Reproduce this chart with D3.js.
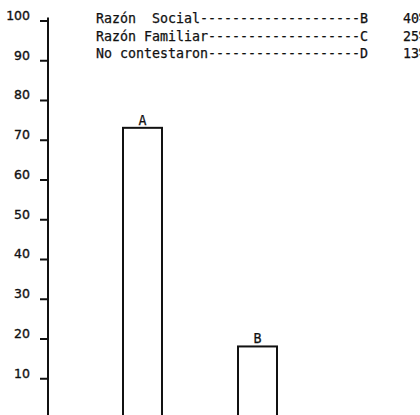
<!DOCTYPE html>
<html lang="es">
<head>
  <meta charset="utf-8">
  <title>Razones</title>
  <script src="https://d3js.org/d3.v7.min.js"></script>
  <style>
    body { margin: 0; background: #fff; }
    svg { display: block; }
    .tw { font-family: 'DejaVu Sans Mono', 'Liberation Mono', monospace; font-size: 13.3px; fill: #111; stroke: #111; stroke-width: 0.25px; white-space: pre; }
    .ylab { font-family: 'DejaVu Sans', sans-serif; font-size: 12.5px; fill: #111; stroke: #111; stroke-width: 0.35px; }
  </style>
</head>
<body>
<div id="chart"></div>
<script>
  // bar data
  var categories = ["A", "B"];
  var values = [73, 18];

  // legend rows
  var legendLabels = ["Razón  Social", "Razón Familiar", "No contestaron"];
  var legendLetters = ["B", "C", "D"];
  var legendValues = ["40%", "25%", "13%"];

  var yTicks = [10, 20, 30, 40, 50, 60, 70, 80, 90, 100];

  var W = 420, H = 415;

  var svg = d3.select("#chart").append("svg")
      .attr("width", W)
      .attr("height", H);

  var y = d3.scaleLinear().domain([0, 100]).range([418, 20.5]);
  var x = d3.scaleBand().domain(categories).range([123, 277]).paddingInner(0.661);

  // y axis
  var axisX = 48;
  var gAxis = svg.append("g")
      .attr("transform", "translate(" + axisX + ",0)")
      .call(d3.axisLeft(y).tickValues(yTicks).tickSize(8).tickSizeOuter(0).tickPadding(10));
  gAxis.select(".domain")
      .attr("d", "M0," + (y(100) - 3) + "V" + (H + 5))
      .attr("stroke", "#111").attr("stroke-width", 2);
  gAxis.selectAll(".tick line").attr("stroke", "#111").attr("stroke-width", 2);
  gAxis.selectAll(".tick text")
      .attr("class", "ylab")
      .attr("dy", "-0.1em")
      .attr("font-family", null).attr("font-size", null);

  // bars (open boxes running off the bottom)
  svg.selectAll("rect.bar")
      .data(values)
      .enter().append("rect")
      .attr("class", "bar")
      .attr("x", (d, i) => x(categories[i]))
      .attr("y", d => y(d))
      .attr("width", x.bandwidth())
      .attr("height", d => H + 10 - y(d))
      .attr("fill", "white")
      .attr("stroke", "#111")
      .attr("stroke-width", 2);

  svg.selectAll("text.blab")
      .data(values)
      .enter().append("text")
      .attr("class", "tw")
      .attr("x", (d, i) => x(categories[i]) + x.bandwidth() / 2)
      .attr("y", d => y(d) - 3)
      .attr("text-anchor", "middle")
      .text((d, i) => categories[i]);

  // legend
  var totalChars = 34;
  var legend = svg.selectAll("g.leg")
      .data(legendLabels)
      .enter().append("g")
      .attr("class", "leg");

  legend.append("text")
      .attr("class", "tw")
      .attr("x", 96)
      .attr("y", (d, i) => 23 + i * 17.5)
      .attr("textLength", totalChars * 8)
      .attr("lengthAdjust", "spacing")
      .text((d, i) => d + "-".repeat(totalChars - 1 - d.length) + legendLetters[i]);

  legend.append("text")
      .attr("class", "tw")
      .attr("x", 403)
      .attr("y", (d, i) => 23 + i * 17.5)
      .text((d, i) => legendValues[i]);
</script>
</body>
</html>
